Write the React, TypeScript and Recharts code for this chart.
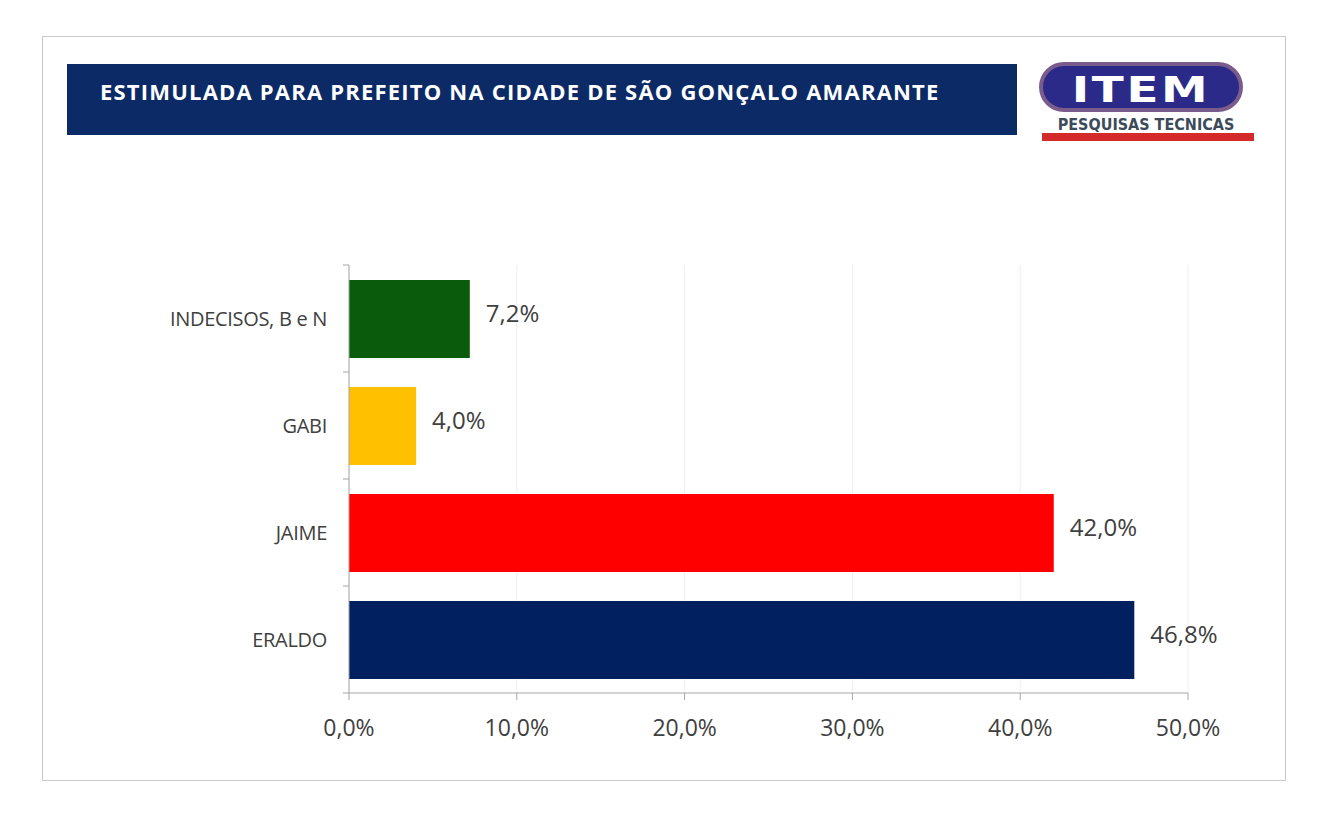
import React from 'react'
import { BarChart, Bar, XAxis, YAxis, CartesianGrid, LabelList, Cell } from 'recharts'

const categories = ['INDECISOS, B e N', 'GABI', 'JAIME', 'ERALDO']
const values = [7.2, 4.0, 42.0, 46.8]
const colors = ['#0a5c0c', '#ffc000', '#ff0000', '#002060']
const xTicks = [0, 10, 20, 30, 40, 50]

const data = categories.map((name, i) => ({ name, value: values[i] }))

const fmt = (v: number) => v.toFixed(1).replace('.', ',') + '%'

const BAND = (693 - 265) / categories.length

const CategoryTick = (props: any) => {
  const { x, y, payload, index } = props
  return (
    <g>
      <line x1={x + 2} x2={x + 8} y1={y - BAND / 2} y2={y - BAND / 2} stroke="#a6a6a6" />
      {index === categories.length - 1 && (
        <line x1={x + 2} x2={x + 8} y1={y + BAND / 2} y2={y + BAND / 2} stroke="#a6a6a6" />
      )}
      <text x={x - 14} y={y} dy={7} textAnchor="end" fill="#404040" fontSize={20} letterSpacing={-0.3}>
        {payload.value}
      </text>
    </g>
  )
}

const Logo = () => (
  <div style={{ position: 'absolute', left: 1038, top: 60, width: 220, height: 84 }}>
    <svg width={220} height={84}>
      <rect x={3} y={4} width={200} height={46} rx={23} fill="#2b2a88" stroke="#7a5c8c" strokeWidth={4} />
      <text
        x={103}
        y={42}
        textAnchor="middle"
        fill="#ffffff"
        fontFamily="DejaVu Sans"
        fontWeight="bold"
        fontSize={36}
        letterSpacing={2}
        transform="translate(103 0) scale(1.3 1) translate(-103 0)"
      >
        ITEM
      </text>
      <text x={108} y={70} textAnchor="middle" fill="#3c4a5a" fontFamily="Liberation Sans Narrow, DejaVu Sans Condensed" fontWeight="bold" fontSize={16}>
        PESQUISAS TECNICAS
      </text>
      <rect x={4} y={73} width={212} height={8} fill="#d42a2a" />
    </svg>
  </div>
)

export default function App() {
  return (
    <div style={{ position: 'absolute', left: 0, top: 0, width: 1327, height: 826, background: '#fff', fontFamily: '"Open Sans", sans-serif' }}>
      <div style={{ position: 'absolute', left: 42, top: 36, width: 1242, height: 743, border: '1px solid #c8c8c8' }} />
      <div
        style={{
          position: 'absolute', left: 67, top: 64, width: 950, height: 71, background: '#0b2a66',
          color: '#fff', fontWeight: 700, fontSize: 22, paddingLeft: 33, paddingTop: 12,
          boxSizing: 'border-box', letterSpacing: 1.2, whiteSpace: 'nowrap', lineHeight: '30px',
        }}
      >
        ESTIMULADA PARA PREFEITO NA CIDADE DE SÃO GONÇALO AMARANTE
      </div>
      <Logo />
      <div style={{ position: 'absolute', left: 0, top: 0 }}>
        <BarChart
          width={1327}
          height={826}
          data={data}
          layout="vertical"
          margin={{ top: 265, right: 139, bottom: 103, left: 0 }}
          barSize={78}
        >
          <CartesianGrid horizontal={false} stroke="#efefef" />
          <XAxis
            type="number"
            domain={[0, 50]}
            ticks={xTicks}
            tickFormatter={(v: number) => fmt(v)}
            height={30}
            stroke="#a6a6a6"
            tickSize={7}
            tick={{ fill: '#404040', fontSize: 23, dy: 18 }}
            interval={0}
          />
          <YAxis
            type="category"
            dataKey="name"
            width={349}
            stroke="#a6a6a6"
            tickLine={false}
            tick={<CategoryTick />}
            interval={0}
          />
          <Bar dataKey="value" isAnimationActive={false}>
            {data.map((d, i) => (
              <Cell key={d.name} fill={colors[i]} />
            ))}
            <LabelList
              dataKey="value"
              position="right"
              offset={16}
              formatter={(v: any) => fmt(Number(v))}
              fill="#404040"
              fontSize={24}
              dy={-6}
            />
          </Bar>
        </BarChart>
      </div>
    </div>
  )
}
